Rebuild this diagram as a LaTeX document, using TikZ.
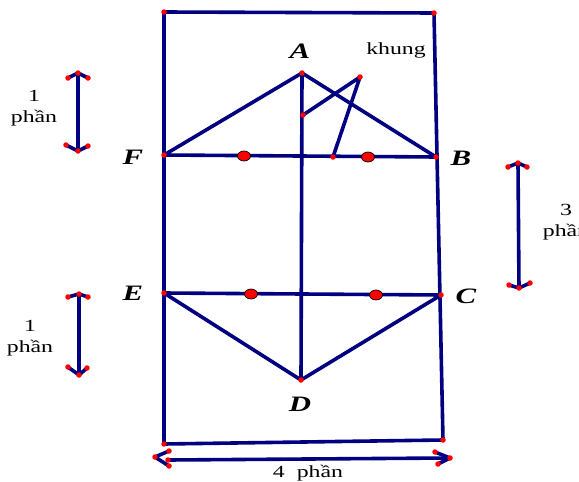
\documentclass[tikz,border=0pt]{standalone}
\usepackage{fontspec}
\setmainfont{Liberation Serif}[FakeStretch=1.4]
\usetikzlibrary{shapes.geometric}
\definecolor{navy}{RGB}{0,0,128}
\tikzset{
  seg/.style={draw=navy, line width=3.6pt, line cap=round, line join=round},
  vdot/.style={circle, fill=red, inner sep=0pt, minimum size=5.5pt},
  bigdot/.style={ellipse, fill=red, draw=black, line width=0.7pt, inner sep=0pt, minimum width=13pt, minimum height=10pt},
  ptlabel/.style={font=\fontsize{22}{22}\selectfont\bfseries\itshape, inner sep=0pt},
  small/.style={font=\fontsize{17}{21}\selectfont, inner sep=0pt, align=center}
}
\begin{document}
\begin{tikzpicture}[x=1pt,y=-1pt]
\useasboundingbox (0,0) rectangle (579,482);
% points
\coordinate (TL) at (164,12);
\coordinate (TR) at (434,13);
\coordinate (BR) at (443,440);
\coordinate (BL) at (164,444);
\coordinate (A) at (302,73);
\coordinate (B) at (436,157);
\coordinate (C) at (441,295);
\coordinate (D) at (301,380);
\coordinate (E) at (164,293);
\coordinate (F) at (164,155);
\coordinate (K1) at (303,115);
\coordinate (K2) at (360,77);
\coordinate (K3) at (333,157);
% frame
\draw[seg] (TL) -- (TR) -- (BR) -- (BL) -- cycle;
% figure
\draw[seg] (F) -- (A) -- (B);
\draw[seg] (F) -- (B);
\draw[seg] (E) -- (C);
\draw[seg] (E) -- (D) -- (C);
\draw[seg] (A) -- (D);
\draw[seg] (K1) -- (K2) -- (K3);
% big dots
\node[bigdot] (M1) at (244,156) {};
\node[bigdot] (M2) at (368,157) {};
\node[bigdot] (M3) at (251,294) {};
\node[bigdot] (M4) at (376,295) {};
% small dots
\foreach \p in {TL,TR,BR,BL,A,B,C,D,E,F,K1,K2,K3}
  \node[vdot] at (\p) {};
% arrows
% top-left
\coordinate (a1t) at (78,73); \coordinate (a1l) at (68,78); \coordinate (a1r) at (88,78);
\coordinate (a1b) at (78,151); \coordinate (a1bl) at (66,145); \coordinate (a1br) at (88,146);
\draw[seg] (a1t) -- (a1b);
\draw[seg] (a1l) -- (a1t) -- (a1r);
\draw[seg] (a1bl) -- (a1b) -- (a1br);
% right
\coordinate (a2t) at (518,163); \coordinate (a2l) at (508,167); \coordinate (a2r) at (527,167);
\coordinate (a2b) at (519,288); \coordinate (a2bl) at (509,285); \coordinate (a2br) at (530,283);
\draw[seg] (a2t) -- (a2b);
\draw[seg] (a2l) -- (a2t) -- (a2r);
\draw[seg] (a2bl) -- (a2b) -- (a2br);
% bottom-left
\coordinate (a3t) at (79,294); \coordinate (a3l) at (68,297); \coordinate (a3r) at (88,297);
\coordinate (a3b) at (79,375); \coordinate (a3bl) at (68,367); \coordinate (a3br) at (87,368);
\draw[seg] (a3t) -- (a3b);
\draw[seg] (a3l) -- (a3t) -- (a3r);
\draw[seg] (a3bl) -- (a3b) -- (a3br);
% bottom
\coordinate (a4l) at (155,457); \coordinate (a4lt) at (169,451); \coordinate (a4lb) at (169,466);
\coordinate (a4r) at (450,458); \coordinate (a4rt) at (435,452); \coordinate (a4rb) at (438,464);
\coordinate (a4s) at (168,460); \coordinate (a4e) at (448,458);
\draw[seg] (a4s) -- (a4e);
\draw[seg] (a4lt) -- (a4l) -- (a4lb);
\draw[seg] (a4rt) -- (a4r) -- (a4rb);
\foreach \p in {a1t,a1l,a1r,a1b,a1bl,a1br,a2t,a2l,a2r,a2b,a2bl,a2br,a3t,a3l,a3r,a3b,a3bl,a3br,a4l,a4lt,a4lb,a4r,a4rt,a4rb,a4s}
  \node[vdot] at (\p) {};
% labels
\node[ptlabel] (lA) at (300,51) {A};
\node[ptlabel] (lB) at (461,158) {B};
\node[ptlabel] (lC) at (466,296) {C};
\node[ptlabel] (lD) at (300,404) {D};
\node[ptlabel] (lE) at (133,293) {E};
\node[ptlabel] (lF) at (133,157) {F};
\node[small] (lk) at (396,50) {khung};
\node[small] (l1) at (34,108) {1\\phần};
\node[small] (l3) at (566,222) {3\\phần};
\node[small] (l2) at (30,338) {1\\phần};
\node[small] (l4) at (308,473) {4\ \ phần};
\end{tikzpicture}
\end{document}
